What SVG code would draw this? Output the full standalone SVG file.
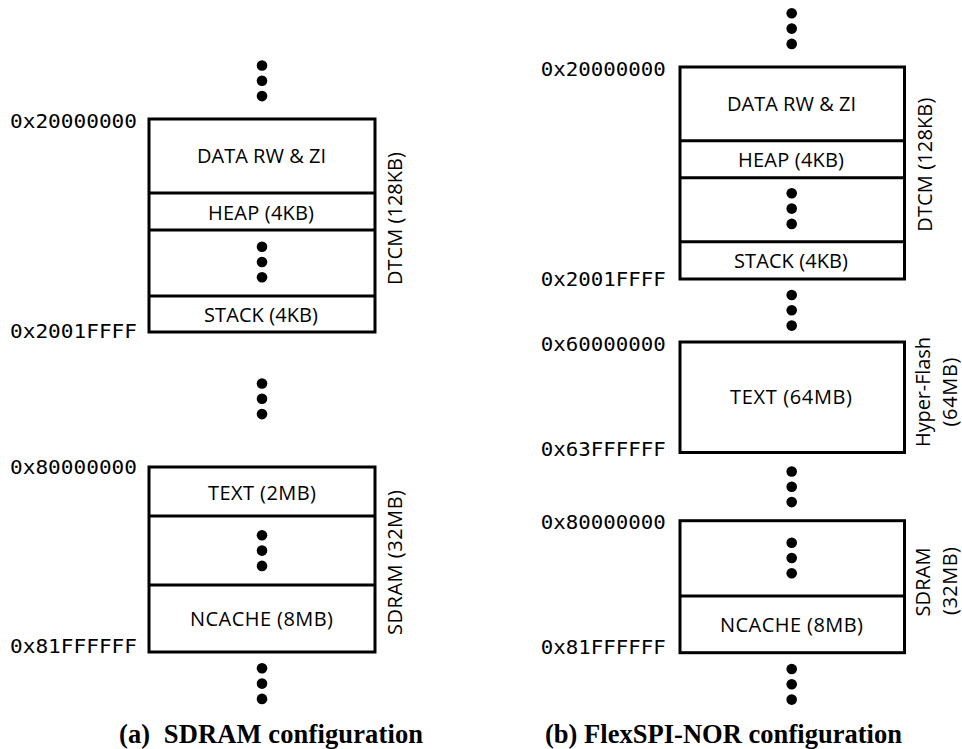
<svg xmlns="http://www.w3.org/2000/svg" xmlns:xlink="http://www.w3.org/1999/xlink" width="962" height="749" viewBox="0 0 962 749">
<style>
  .box { fill: #fff; stroke: #000; stroke-width: 3; }
  .div { stroke: #000; stroke-width: 3; fill: none; }
  .lbl { font-family: "Open Sans", "Liberation Sans", sans-serif; font-size: 20px; fill: #000; text-anchor: middle; }
  .addr { font-family: "DejaVu Sans Mono", "Liberation Mono", monospace; font-size: 19px; fill: #000; }
  .cap { font-family: "Liberation Serif", "Times New Roman", serif; font-weight: bold; font-size: 26.5px; fill: #000; }
</style>
<defs>
  <g id="vdots">
    <circle cx="0" cy="0" r="5.3" fill="#000"/>
    <circle cx="0" cy="15.3" r="5.3" fill="#000"/>
    <circle cx="0" cy="30.6" r="5.3" fill="#000"/>
  </g>
</defs>
<rect width="962" height="749" fill="#fff"/>

<!-- Panel (a) -->
<g id="panel-a">
  <g id="a-dtcm">
    <rect class="box" x="149" y="119" width="226" height="213"/>
    <line class="div" x1="149" y1="193" x2="375" y2="193"/>
    <line class="div" x1="149" y1="230" x2="375" y2="230"/>
    <line class="div" x1="149" y1="296" x2="375" y2="296"/>
    <text class="lbl" x="261.5" y="163" textLength="129" lengthAdjust="spacing">DATA RW &amp; ZI</text>
    <text class="lbl" x="261" y="220" textLength="106" lengthAdjust="spacing">HEAP (4KB)</text>
    <use xlink:href="#vdots" x="262" y="246.7"/>
    <text class="lbl" x="261" y="321.5" textLength="114" lengthAdjust="spacing">STACK (4KB)</text>
    <text class="addr" x="10" y="128" textLength="127" lengthAdjust="spacingAndGlyphs">0x20000000</text>
    <text class="addr" x="10" y="338" textLength="127" lengthAdjust="spacingAndGlyphs">0x2001FFFF</text>
    <text class="lbl" transform="translate(402,218.5) rotate(-90)" textLength="133" lengthAdjust="spacing">DTCM (128KB)</text>
  </g>
  <g id="a-sdram">
    <rect class="box" x="149" y="467" width="226" height="185"/>
    <line class="div" x1="149" y1="516" x2="375" y2="516"/>
    <line class="div" x1="149" y1="585" x2="375" y2="585"/>
    <text class="lbl" x="262" y="500" textLength="108" lengthAdjust="spacing">TEXT (2MB)</text>
    <use xlink:href="#vdots" x="262" y="535.3"/>
    <text class="lbl" x="261.5" y="626" textLength="143" lengthAdjust="spacing">NCACHE (8MB)</text>
    <text class="addr" x="10" y="474" textLength="127" lengthAdjust="spacingAndGlyphs">0x80000000</text>
    <text class="addr" x="10" y="653" textLength="127" lengthAdjust="spacingAndGlyphs">0x81FFFFFF</text>
    <text class="lbl" transform="translate(402,562.5) rotate(-90)" textLength="145" lengthAdjust="spacing">SDRAM (32MB)</text>
  </g>
  <text class="cap" x="119" y="743" textLength="304" lengthAdjust="spacing" xml:space="preserve">(a)  SDRAM configuration</text>
</g>

<!-- Panel (b) -->
<g id="panel-b">
  <g id="b-dtcm">
    <rect class="box" x="680" y="67" width="224.5" height="212"/>
    <line class="div" x1="680" y1="140.7" x2="904.5" y2="140.7"/>
    <line class="div" x1="680" y1="177.7" x2="904.5" y2="177.7"/>
    <line class="div" x1="680" y1="241.7" x2="904.5" y2="241.7"/>
    <text class="lbl" x="791.5" y="110.7" textLength="129" lengthAdjust="spacing">DATA RW &amp; ZI</text>
    <text class="lbl" x="791" y="167.3" textLength="106" lengthAdjust="spacing">HEAP (4KB)</text>
    <use xlink:href="#vdots" x="791.7" y="193.3"/>
    <text class="lbl" x="791" y="267.7" textLength="114" lengthAdjust="spacing">STACK (4KB)</text>
    <text class="addr" x="540.7" y="76" textLength="125" lengthAdjust="spacingAndGlyphs">0x20000000</text>
    <text class="addr" x="540.7" y="285.7" textLength="125" lengthAdjust="spacingAndGlyphs">0x2001FFFF</text>
    <text class="lbl" transform="translate(932,164.7) rotate(-90)" textLength="134" lengthAdjust="spacing">DTCM (128KB)</text>
  </g>
  <g id="b-flash">
    <rect class="box" x="680" y="342" width="224.5" height="110.5"/>
    <text class="lbl" x="791" y="404" textLength="122" lengthAdjust="spacing">TEXT (64MB)</text>
    <text class="addr" x="540.7" y="350.7" textLength="125" lengthAdjust="spacingAndGlyphs">0x60000000</text>
    <text class="addr" x="540.7" y="455.7" textLength="125" lengthAdjust="spacingAndGlyphs">0x63FFFFFF</text>
    <text class="lbl" transform="translate(930,392) rotate(-90)" textLength="110" lengthAdjust="spacing">Hyper-Flash</text>
    <text class="lbl" transform="translate(957,392) rotate(-90)" textLength="69" lengthAdjust="spacing">(64MB)</text>
  </g>
  <g id="b-sdram">
    <rect class="box" x="680" y="520.7" width="224.5" height="132"/>
    <line class="div" x1="680" y1="596" x2="904.5" y2="596"/>
    <use xlink:href="#vdots" x="791.7" y="542.7"/>
    <text class="lbl" x="791.5" y="631.7" textLength="143" lengthAdjust="spacing">NCACHE (8MB)</text>
    <text class="addr" x="540.7" y="529" textLength="125" lengthAdjust="spacingAndGlyphs">0x80000000</text>
    <text class="addr" x="540.7" y="654" textLength="125" lengthAdjust="spacingAndGlyphs">0x81FFFFFF</text>
    <text class="lbl" transform="translate(930,582) rotate(-90)" textLength="69" lengthAdjust="spacing">SDRAM</text>
    <text class="lbl" transform="translate(957,581) rotate(-90)" textLength="68" lengthAdjust="spacing">(32MB)</text>
  </g>
  <text class="cap" x="545" y="743" textLength="357" lengthAdjust="spacing">(b) FlexSPI-NOR configuration</text>
</g>

<!-- Ellipsis markers between regions -->
<g id="connectors">
  <use xlink:href="#vdots" x="262" y="65.5"/>
  <use xlink:href="#vdots" x="262" y="383.5"/>
  <use xlink:href="#vdots" x="262" y="668.3"/>
  <use xlink:href="#vdots" x="791.7" y="13.3"/>
  <use xlink:href="#vdots" x="791.7" y="295"/>
  <use xlink:href="#vdots" x="791.7" y="471.5"/>
  <use xlink:href="#vdots" x="791.7" y="669"/>
</g>
</svg>
